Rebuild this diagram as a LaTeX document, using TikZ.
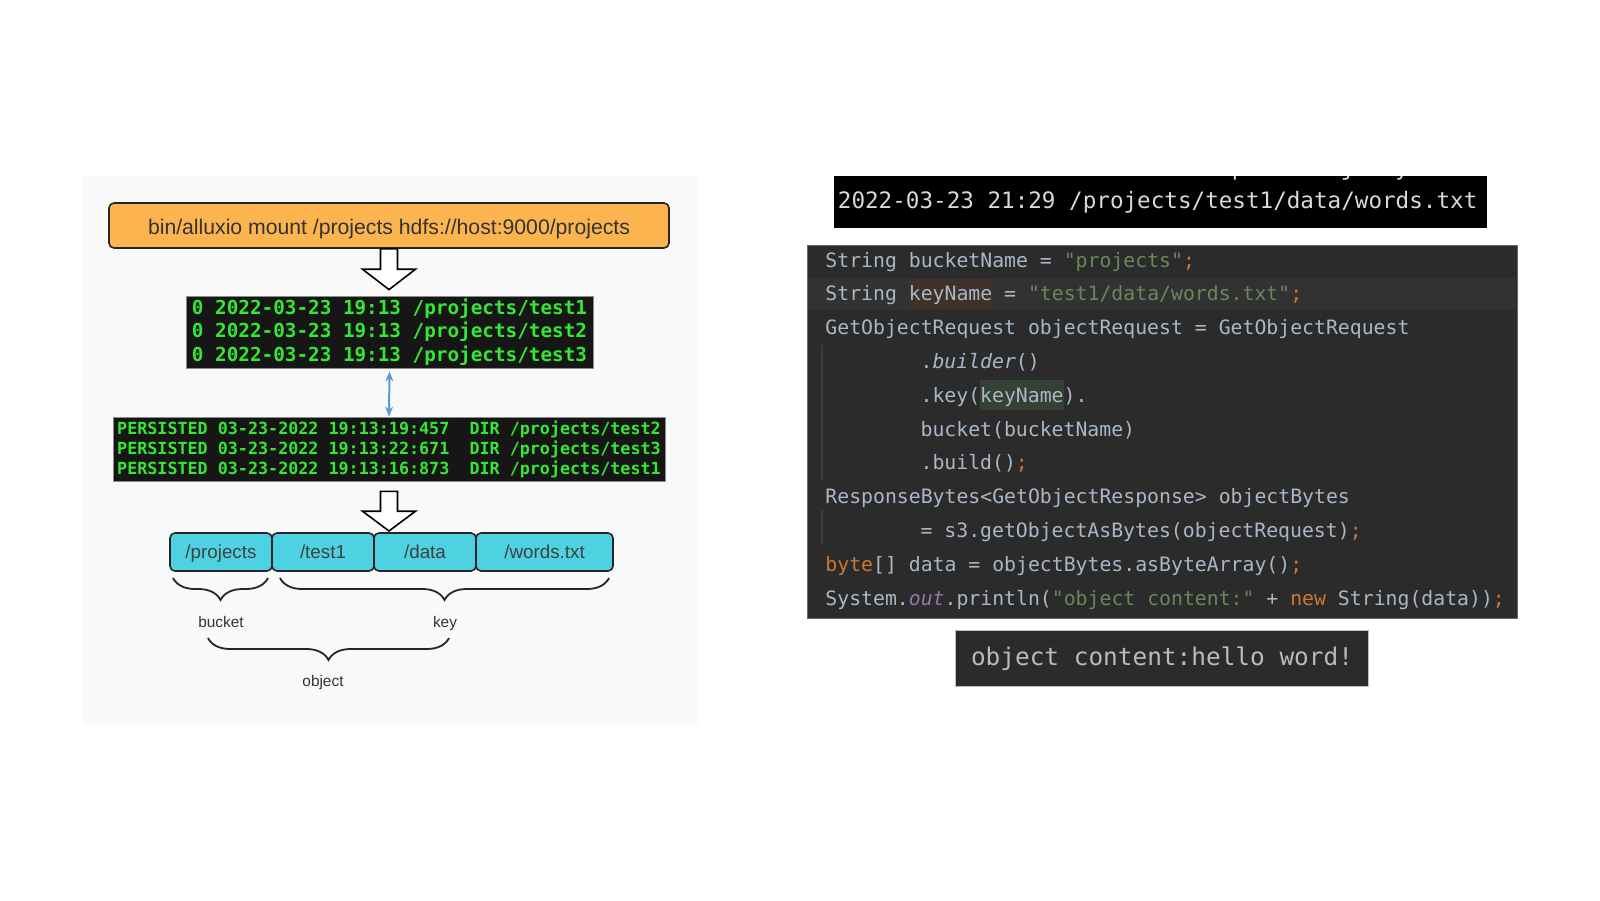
\documentclass[tikz,border=0pt]{standalone}
\usepackage{fontspec}
\setmainfont{Liberation Sans}
\setmonofont{DejaVu Sans Mono}
\usetikzlibrary{positioning,calc,decorations.pathreplacing,arrows.meta}

\definecolor{panelbg}{HTML}{F9F9F9}
\definecolor{mountorange}{HTML}{FBB44E}
\definecolor{segcyan}{HTML}{4ED2E2}
\definecolor{termbg}{HTML}{161616}
\definecolor{termgreen}{HTML}{33E833}
\definecolor{linkblue}{HTML}{5B9BD5}
\definecolor{toptext}{HTML}{D9D9D9}
\definecolor{codebg}{HTML}{2B2B2B}
\definecolor{codefg}{HTML}{A9B7C6}
\definecolor{codestr}{HTML}{6A8759}
\definecolor{codekw}{HTML}{CC7832}
\definecolor{codepurple}{HTML}{9876AA}
\definecolor{linehl}{HTML}{323232}
\definecolor{hlbrown}{HTML}{40322A}
\definecolor{hlgreen}{HTML}{344134}
\definecolor{outtext}{HTML}{BBBBBB}
\definecolor{guideline}{HTML}{3D3D3D}

% code colouring
\newcommand{\jkw}[1]{\textcolor{codekw}{#1}}
\newcommand{\jstr}[1]{\textcolor{codestr}{#1}}
\newcommand{\jfield}[1]{\textcolor{codepurple}{\itshape #1}}
\newcommand{\jmark}[2]{{\setlength{\fboxsep}{0pt}\colorbox{#1}{\rule[-4.1pt]{0pt}{15pt}#2}}}

\begin{document}
\begin{tikzpicture}[
  x=0.5pt, y=-0.5pt,
  every node/.style={inner sep=0pt},
  cmd/.style={draw=black!85, line width=0.8pt, rounded corners=2.5pt, fill=mountorange, minimum width=280pt, minimum height=22.5pt, text height=8.8pt, text depth=0pt, text=black!80, font=\fontsize{10.6pt}{12pt}\selectfont},
  term/.style={draw=black!45, line width=0.4pt, fill=termbg, text=termgreen, align=left},
  seg/.style={draw=black!85, line width=0.8pt, outer sep=0pt, rounded corners=2.5pt, fill=segcyan, minimum height=19pt, text height=6.8pt, text depth=0.2pt, text=black!75, font=\fontsize{9.4pt}{11pt}\selectfont},
  lbl/.style={text height=5.6pt, text depth=1.6pt, text=black!80, font=\fontsize{7.7pt}{9pt}\selectfont},
  hollow/.style={draw=black, line width=0.8pt, fill=white, line join=miter},
  link/.style={{Stealth[length=5pt,width=4pt]}-{Stealth[length=5pt,width=4pt]}, linkblue, line width=1pt},
  brc/.style={decorate, decoration={brace, mirror, amplitude=11pt}, line width=0.9pt, black!85},
  codeln/.style={anchor=base west, text=codefg, font=\ttfamily\fontsize{9.9pt}{12pt}\selectfont},
  guide/.style={guideline, line width=0.6pt}
]
  \fill[white] (0,0) rectangle (1600,900);
  \useasboundingbox (0,0) rectangle (1600,900);

  % left panel
  \fill[panelbg] (82,176) rectangle (698,724);

  \node[cmd] (mount) at (389,225.5) {bin/alluxio mount /projects hdfs://host:9000/projects};

  \node[term, minimum width=203.5pt, minimum height=36pt, font=\ttfamily\bfseries\fontsize{9.65pt}{11.75pt}\selectfont] (ls) at (389.5,332)
    {0 2022-03-23 19:13 /projects/test1\\0 2022-03-23 19:13 /projects/test2\\0 2022-03-23 19:13 /projects/test3};

  \node[term, minimum width=276pt, minimum height=32pt, font=\ttfamily\bfseries\fontsize{8.36pt}{10pt}\selectfont] (persist) at (389,449)
    {PERSISTED 03-23-2022 19:13:19:457\ \ DIR /projects/test2\\PERSISTED 03-23-2022 19:13:22:671\ \ DIR /projects/test3\\PERSISTED 03-23-2022 19:13:16:873\ \ DIR /projects/test1};

  \node[seg, minimum width=51pt, anchor=north west] (sproj) at (170,533) {/projects};
  \node[seg, minimum width=51pt, right=0pt of sproj] (stest) {/test1};
  \node[seg, minimum width=51pt, right=0pt of stest] (sdata) {/data};
  \node[seg, minimum width=68.5pt, right=0pt of sdata] (swords) {/words.txt};

  % hollow arrows
  \draw[hollow] let \p1=(mount.south), \p2=($(ls.north)+(0,-6)$) in
    (\x1-4.25pt,\y1) -- (\x1+4.25pt,\y1) -- (\x1+4.25pt,{(\y1+\y2)/2}) -- (\x1+13.25pt,{(\y1+\y2)/2})
    -- (\x1,\y2) -- (\x1-13.25pt,{(\y1+\y2)/2}) -- (\x1-4.25pt,{(\y1+\y2)/2}) -- cycle;
  \draw[hollow] let \p1=($(persist.south)+(0,10)$), \p2=($(sdata.north west)+(0,-2)$) in
    (\x1-4.25pt,\y1) -- (\x1+4.25pt,\y1) -- (\x1+4.25pt,{(\y1+\y2)/2}) -- (\x1+13.25pt,{(\y1+\y2)/2})
    -- (\x1,\y2) -- (\x1-13.25pt,{(\y1+\y2)/2}) -- (\x1-4.25pt,{(\y1+\y2)/2}) -- cycle;

  \draw[link, shorten <=1.5pt, shorten >=0pt] (ls.south) -- (persist.north);

  % braces
  \draw[brc] ($(sproj.south west)+(3,7)$) -- ($(sproj.south east)+(-4,7)$);
  \draw[brc] ($(stest.south west)+(8,7)$) -- ($(swords.south east)+(-4,7)$);
  \node[lbl] (bucketlbl) at (221,623) {bucket};
  \node[lbl] (keylbl) at (445,623) {key};
  \draw[brc] (208,638) -- (449,638);
  \node[lbl] (objectlbl) at (323,682) {object};

  % right side
  \node[fill=black, minimum width=326.5pt, minimum height=26pt, anchor=north west, text=toptext, font=\ttfamily\fontsize{11.3pt}{13pt}\selectfont] (lsr) at (834,176)
    {\makebox[323pt][l]{2022-03-23 21:29 /projects/test1/data/words.txt}};
  \begin{scope}
    \clip (lsr.north west) rectangle (lsr.south east);
    \node[anchor=base west, text=toptext, font=\ttfamily\fontsize{11.3pt}{13pt}\selectfont] (lsprev) at (837,175)
      {\phantom{00000000000000000000000000000}p\phantom{0000000}j\phantom{000}y};
  \end{scope}

  \node[draw=black!60, line width=0.5pt, fill=codebg, minimum width=355pt, minimum height=186.5pt, anchor=north west] (code) at (807,245) {};
  \fill[linehl] (808,277.5) rectangle (1516,310);
  \draw[guide] (822,345) -- (822,480);
  \draw[guide] (822,510) -- (822,545);

  \node[codeln] (c1) at (825,267) {String bucketName = \jstr{"projects"}\jkw{;}};
  \node[codeln] (c2) at (825,300.8) {String \jmark{hlbrown}{keyName} = \jstr{"test1/data/words.txt"}\jkw{;}};
  \node[codeln] (c3) at (825,334.6) {GetObjectRequest objectRequest = GetObjectRequest};
  \node[codeln] (c4) at (920.2,368.4) {.\textit{builder}()};
  \node[codeln] (c5) at (920.2,402.2) {.key(\jmark{hlgreen}{keyName}).};
  \node[codeln] (c6) at (920.2,436) {bucket(bucketName)};
  \node[codeln] (c7) at (920.2,469.8) {.build()\jkw{;}};
  \node[codeln] (c8) at (825,503.6) {ResponseBytes<GetObjectResponse> objectBytes};
  \node[codeln] (c9) at (920.2,537.4) {= s3.getObjectAsBytes(objectRequest)\jkw{;}};
  \node[codeln] (c10) at (825,571.2) {\jkw{byte}[] data = objectBytes.asByteArray()\jkw{;}};
  \node[codeln] (c11) at (825,605) {System.\jfield{out}.println(\jstr{"object content:"} + \jkw{new} String(data))\jkw{;}};

  \node[draw=black!25, line width=0.5pt, fill=codebg, minimum width=206.5pt, minimum height=28pt, anchor=north west, text=outtext, font=\ttfamily\fontsize{12.2pt}{14pt}\selectfont] (out) at (955,630)
    {object content:hello word!};
\end{tikzpicture}
\end{document}
